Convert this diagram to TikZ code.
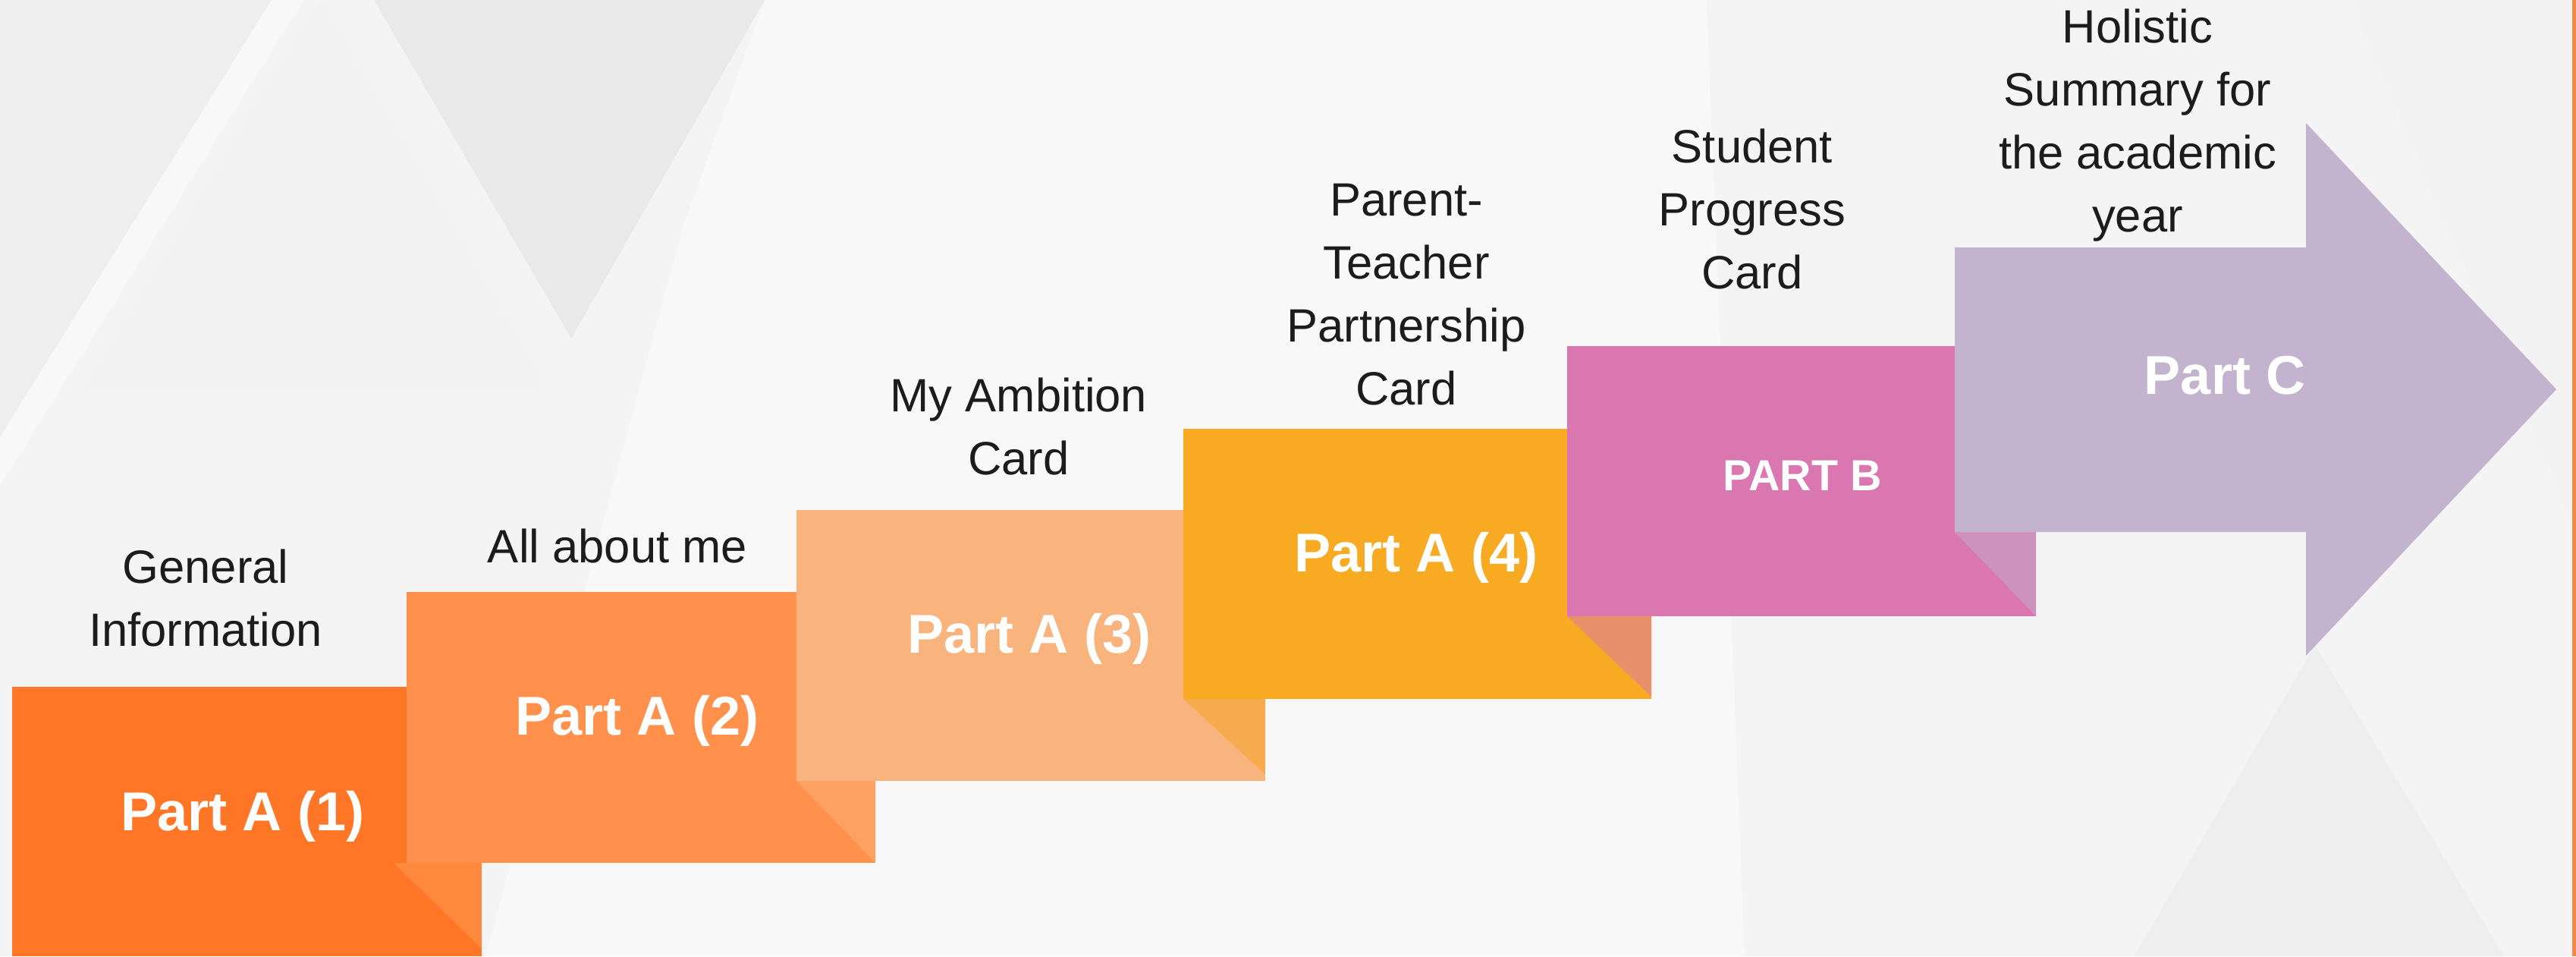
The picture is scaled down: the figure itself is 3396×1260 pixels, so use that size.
\documentclass[tikz,border=0pt]{standalone}
\usepackage{fontspec}
\setmainfont{Liberation Sans}

\definecolor{bgbase}{HTML}{F4F4F4}
\definecolor{bgdark}{HTML}{EEEEEE}
\definecolor{bgdarker}{HTML}{E9E9E9}
\definecolor{bglight}{HTML}{F8F8F8}
\definecolor{bgmid}{HTML}{F2F2F2}
\definecolor{stepone}{HTML}{FF7626}
\definecolor{steptwo}{HTML}{FF914D}
\definecolor{stepthree}{HTML}{F8B47C}
\definecolor{stepfour}{HTML}{F7AA22}
\definecolor{stepfive}{HTML}{DB77B0}
\definecolor{stepsix}{HTML}{C3B3CF}
\definecolor{foldone}{HTML}{FF8A3E}
\definecolor{foldtwo}{HTML}{FBA263}
\definecolor{foldthree}{HTML}{F5AB4E}
\definecolor{foldfour}{HTML}{E8906A}
\definecolor{foldfive}{HTML}{CE92BF}
\definecolor{captioncol}{HTML}{1C1C1C}
\definecolor{edgecol}{HTML}{F08A4B}

\begin{document}
\begin{tikzpicture}[x=0.01cm,y=-0.01cm,
  caption/.style={align=center,anchor=base,inner sep=0pt,text=captioncol,
    font=\fontsize{17.5}{23.6}\selectfont},
  partlabel/.style={anchor=base,inner sep=0pt,text=white,
    font=\fontsize{20.5}{24}\selectfont\bfseries}]
\useasboundingbox (0,0) rectangle (3396,1260);

% background
\fill[bgbase] (0,0) rectangle (3396,1260);
\fill[bglight] (1008,0) -- (2250,0) -- (2300,1260) -- (640,1260) -- (900,300) -- cycle;
\fill[bgdark] (0,0) -- (358,0) -- (0,576) -- cycle;
\fill[bglight] (358,0) -- (400,0) -- (0,640) -- (0,576) -- cycle;
\fill[bgmid] (422,0) -- (721,511) -- (113,511) -- cycle;
\fill[bgdarker] (493,0) -- (1008,0) -- (753,446) -- cycle;
\fill[bgdark] (3052,850) -- (3301,1260) -- (2814,1260) -- cycle;
\fill[bgmid] (3100,0) -- (3396,0) -- (3396,700) -- cycle;
\fill[edgecol] (3391,0) rectangle (3396,1260);

% steps
\fill[stepone] (16,905) rectangle (635,1260);
\fill[steptwo] (536,780) rectangle (1154,1137);
\fill[foldone] (519,1137) -- (635,1137) -- (635,1250) -- cycle;
\fill[stepthree] (1050,672) rectangle (1668,1029);
\fill[foldtwo] (1050,1029) -- (1154,1029) -- (1154,1137) -- cycle;
\fill[stepfour] (1560,565) rectangle (2177,921);
\fill[foldthree] (1560,921) -- (1668,921) -- (1668,1020) -- cycle;
\fill[stepfive] (2066,456) rectangle (2684,812);
\fill[foldfour] (2066,812) -- (2177,812) -- (2177,918) -- cycle;
\fill[stepsix] (2577,326) -- (3040,326) -- (3040,162) -- (3370,513)
  -- (3040,864) -- (3040,701) -- (2577,701) -- cycle;
\fill[foldfive] (2577,701) -- (2684,701) -- (2684,812) -- cycle;

% part labels
\node[partlabel] (parta1) at (320,1094) {Part A (1)};
\node[partlabel] (parta2) at (840,968) {Part A (2)};
\node[partlabel] (parta3) at (1357,860) {Part A (3)};
\node[partlabel] (parta4) at (1867,753) {Part A (4)};
\node[partlabel,font=\fontsize{16.3}{20}\selectfont\bfseries] (partb) at (2376,646) {PART B};
\node[partlabel] (partc) at (2933,519) {Part C};

% captions
\node[caption] (general) at (271,851) {General\\Information};
\node[caption] (aboutme) at (814,741) {All about me};
\node[caption] (ambition) at (1343,625) {My Ambition\\Card};
\node[caption] (partner) at (1854,533) {Parent-\\Teacher\\Partnership\\Card};
\node[caption] (progress) at (2310,380) {Student\\Progress\\Card};
\node[caption] (holistic) at (2818,305) {Holistic\\Summary for\\the academic\\year};
\end{tikzpicture}
\end{document}
